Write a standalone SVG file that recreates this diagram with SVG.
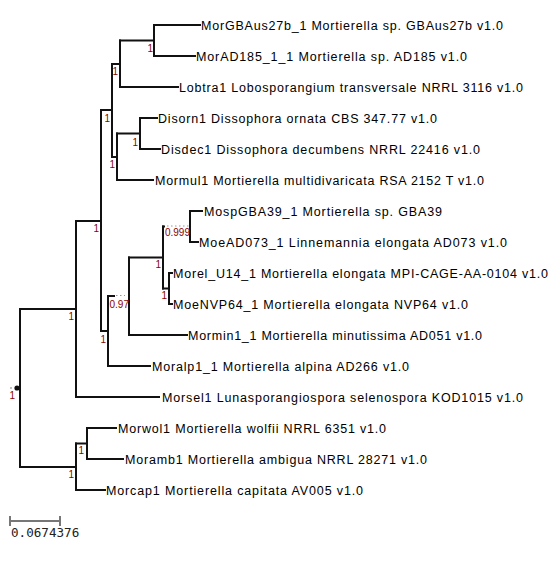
<svg xmlns="http://www.w3.org/2000/svg" width="560" height="566" viewBox="0 0 560 566">
<style>
.br{fill:none;stroke:#111;stroke-width:2;stroke-linecap:square}
.dot{fill:none;stroke:#999;stroke-width:1.2;stroke-dasharray:1.5,2.5}
.lab{font-family:"Liberation Sans",Arial,sans-serif;font-size:12.5px;fill:#000}
.sup{font-family:"Liberation Sans",Arial,sans-serif;font-size:10px;fill:#8b0000;text-anchor:end}
.scale{fill:none;stroke:#777;stroke-width:2}
.st{font-family:"DejaVu Sans Mono",monospace;font-size:12.6px;fill:#222}
</style>
<rect width="560" height="566" fill="#fff"/>
<g id="connectors">
<path class="br" d="M20,309V467"/>
<path class="br" d="M20,309H76M76,221V397"/>
<path class="br" d="M76,221H101M101,110V331"/>
<path class="br" d="M101,110H112M112,64V157"/>
<path class="br" d="M112,64H120M120,40.5V87"/>
<path class="br" d="M120,40.5H154M154,25V56"/>
<path class="br" d="M112,157H117M117,133.5V180"/>
<path class="br" d="M117,133.5H140M140,118V149"/>
<path class="br" d="M101,331H108M108,296V366"/>
<path class="br" d="M108,296H114"/>
<path class="dot" d="M116,295.5H125"/>
<path class="br" d="M129,257.5V335"/>
<path class="br" d="M129,257.5H163M163,226.5V288.5"/>
<path class="br" d="M163,226.5H164"/>
<path class="dot" d="M167,226H189"/>
<path class="br" d="M190,211V242"/>
<path class="br" d="M163,288.5H169M169,273V304"/>
<path class="br" d="M20,467H76M76,443.5V490"/>
<path class="br" d="M76,443.5H87M87,428V459"/>
<path class="br" d="M154,25H200M154,56H195M120,87H178M140,118H157M140,149H160M117,180H153M190,211H202M190,242H198M169,273H172M169,304H172M129,335H187M108,366H150M76,397H159M87,428H116M87,459H123M76,490H105"/>
<circle cx="17" cy="388" r="2.6" fill="#111"/>
<circle cx="11" cy="388" r="1" fill="#aaa"/>
</g>
<g id="supports">
<text class="sup" x="153" y="52">1</text>
<text class="sup" x="118" y="75">1</text>
<text class="sup" x="110" y="122">1</text>
<text class="sup" x="138" y="146">1</text>
<text class="sup" x="115" y="168">1</text>
<text class="sup" x="99" y="232">1</text>
<text class="sup" x="74" y="320">1</text>
<text class="sup" x="106" y="343">1</text>
<text class="sup" x="129" y="308">0.97</text>
<text class="sup" x="190" y="236">0.999</text>
<text class="sup" x="161" y="268">1</text>
<text class="sup" x="167" y="299">1</text>
<text class="sup" x="84" y="454">1</text>
<text class="sup" x="74" y="478">1</text>
<text class="sup" x="15" y="399">1</text>
</g>
<g id="leaf1"><text class="lab" x="201" y="29.5" textLength="302" lengthAdjust="spacing">MorGBAus27b_1 Mortierella sp. GBAus27b v1.0</text></g>
<g id="leaf2"><text class="lab" x="196" y="60.5" textLength="271" lengthAdjust="spacing">MorAD185_1_1 Mortierella sp. AD185 v1.0</text></g>
<g id="leaf3"><text class="lab" x="179" y="91.5" textLength="344" lengthAdjust="spacing">Lobtra1 Lobosporangium transversale NRRL 3116 v1.0</text></g>
<g id="leaf4"><text class="lab" x="158" y="122.5" textLength="279" lengthAdjust="spacing">Disorn1 Dissophora ornata CBS 347.77 v1.0</text></g>
<g id="leaf5"><text class="lab" x="161" y="153.5" textLength="319" lengthAdjust="spacing">Disdec1 Dissophora decumbens NRRL 22416 v1.0</text></g>
<g id="leaf6"><text class="lab" x="155" y="184.5" textLength="329" lengthAdjust="spacing">Mormul1 Mortierella multidivaricata RSA 2152 T v1.0</text></g>
<g id="leaf7"><text class="lab" x="204" y="215.5" textLength="238" lengthAdjust="spacing">MospGBA39_1 Mortierella sp. GBA39</text></g>
<g id="leaf8"><text class="lab" x="199" y="246.5" textLength="308" lengthAdjust="spacing">MoeAD073_1 Linnemannia elongata AD073 v1.0</text></g>
<g id="leaf9"><text class="lab" x="173" y="277.5" textLength="375" lengthAdjust="spacing">Morel_U14_1 Mortierella elongata MPI-CAGE-AA-0104 v1.0</text></g>
<g id="leaf10"><text class="lab" x="173" y="308.5" textLength="295" lengthAdjust="spacing">MoeNVP64_1 Mortierella elongata NVP64 v1.0</text></g>
<g id="leaf11"><text class="lab" x="188" y="339.5" textLength="294" lengthAdjust="spacing">Mormin1_1 Mortierella minutissima AD051 v1.0</text></g>
<g id="leaf12"><text class="lab" x="152" y="370.5" textLength="257" lengthAdjust="spacing">Moralp1_1 Mortierella alpina AD266 v1.0</text></g>
<g id="leaf13"><text class="lab" x="162" y="401.5" textLength="361" lengthAdjust="spacing">Morsel1 Lunasporangiospora selenospora KOD1015 v1.0</text></g>
<g id="leaf14"><text class="lab" x="118" y="432.5" textLength="268" lengthAdjust="spacing">Morwol1 Mortierella wolfii NRRL 6351 v1.0</text></g>
<g id="leaf15"><text class="lab" x="125" y="463.5" textLength="302" lengthAdjust="spacing">Moramb1 Mortierella ambigua NRRL 28271 v1.0</text></g>
<g id="leaf16"><text class="lab" x="106" y="494.5" textLength="257" lengthAdjust="spacing">Morcap1 Mortierella capitata AV005 v1.0</text></g>
<g id="scalebar">
<path class="scale" d="M10,521H60M10,516V526M60,516V526"/>
<text class="st" x="11" y="537">0.0674376</text>
</g>
</svg>
